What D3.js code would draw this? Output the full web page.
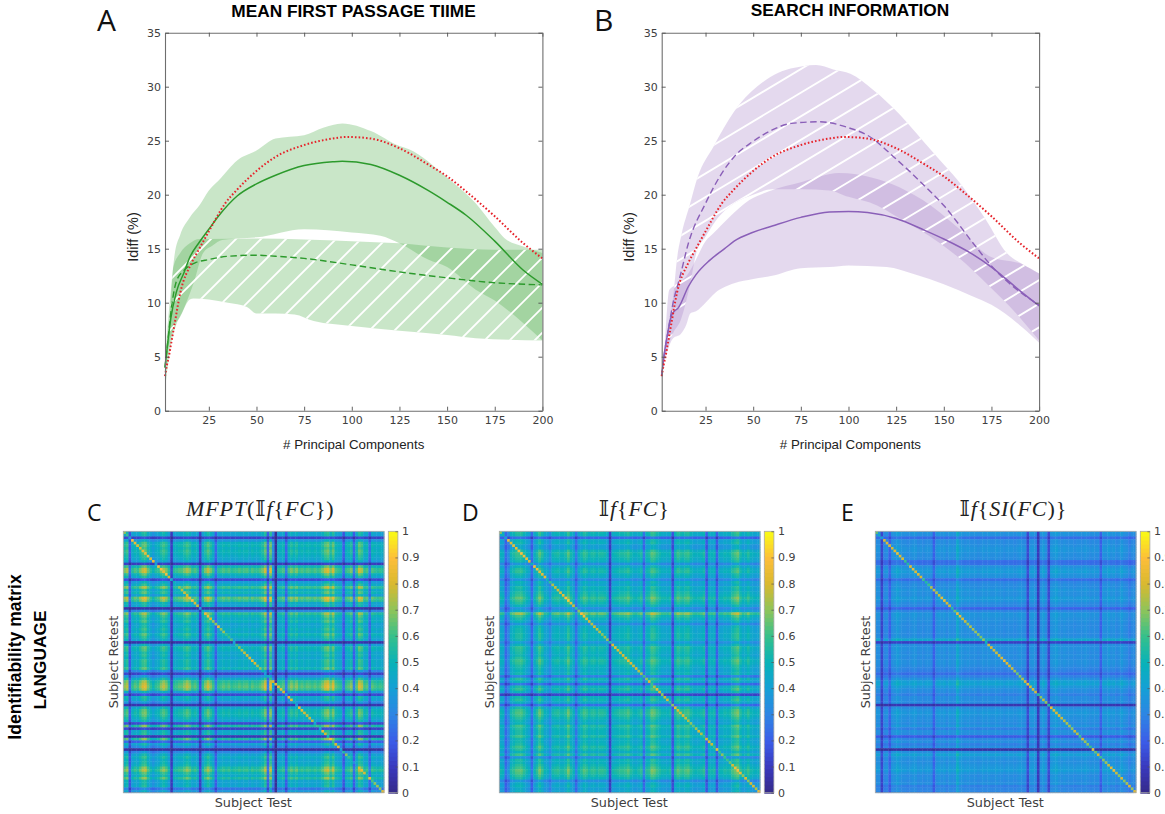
<!DOCTYPE html>
<html><head><meta charset="utf-8">
<script src="https://cdnjs.cloudflare.com/ajax/libs/d3/7.8.5/d3.min.js"></script>
<style>html,body{margin:0;padding:0;background:#fff;overflow:hidden}svg{display:block}</style>
</head><body><svg id="c" width="1165" height="814"></svg>
<script>
// ---------- panel data (x = # principal components, y = Idiff %) ----------
const redX=[2,3,4,5,7,10,16,20,25,33.6,40,50,60,75,90,97,110,125,140,150,160,175,190,200];
const redY=[3.2,4.2,5,6,8,10.9,13.7,15,16.6,19.2,20.5,22.2,23.5,24.6,25.2,25.35,25.2,24.3,22.8,21.7,20.3,18,15.5,14.1];

const aSolidX=[2,3,5,8,12,15,20,25,30,40,50,60,75,90,95,110,125,140,150,160,175,190,200];
const aSolidY=[4,5.6,8.5,11,12.8,14.2,15.6,16.8,18,19.9,21,21.8,22.7,23.05,23.1,22.8,21.8,20.4,19.3,18.1,15.7,13,11.7];
const aDashX=[2,3,5,8,12,18,25,35,50,60,75,100,125,150,175,200];
const aDashY=[4,5.6,9,12,13,13.7,14,14.3,14.4,14.3,14.1,13.5,12.85,12.3,11.85,11.65];
const aBandSolidX=[2,3,5,7,10,15,20,25,30,40,50,60,75,85,95,110,125,130,150,165,175,180,190,200];
const aBandSolidHi=[4.5,7,11,14.4,16.3,17.9,19,20.4,21.3,23.2,24.1,25.2,25.5,26.2,26.6,25.9,24.5,24.2,21.6,19.2,17,16,15.2,14.6];
const aBandSolidLoX=[2,3,5,8,11.5,17,22,27,32,45,50,75,100,115,125,140,150,165,175,190,200];
const aBandSolidLo=[2,3.5,6,8,9.3,11.8,14.6,15.3,15.8,16,16.05,16.8,16.5,16.2,15.5,14,13.3,11.2,10.2,8.1,6.5];
const aBandDashX=[2,3,5,6.4,10,15,20,24,50,75,100,125,150,175,200];
const aBandDashHi=[4,5.5,10,13.3,14.6,15.5,15.9,15.9,15.95,15.85,15.7,15.5,15.1,14.9,14.9];
const aBandDashLoX=[2,3,5,6.4,10,15,17,25,35,45,50,60,70,80,100,125,150,165,200];
const aBandDashLo=[4,5,6.8,7.6,8.7,10.3,10.4,10.3,10,9.6,9,9,8.9,8.3,7.85,7.4,7,6.7,6.5];

const bSolidX=[2,3,5,7.3,11,16,20,27,35,40,49.6,60,75,90,100,110,125,140,150,165,175,190,200];
const bSolidY=[3.2,4.8,7,8.9,9.6,11.5,12.6,13.9,15,15.7,16.5,17.1,17.9,18.4,18.45,18.35,17.8,16.7,15.9,14.5,13.3,11.1,9.7];
const bDashX=[2,3,5,8,11.6,16,25,33.6,41,49.6,60,70,85,100,110,125,140,150,165,175,190,200];
const bDashY=[3.2,4.8,7,10,12.4,15.5,19.2,22,23.7,24.9,26,26.6,26.75,26.2,25.5,23.3,20.8,19,15.6,13.4,11,9.8];
const bBandSolidHiX=[2,3,6,12,17,20,25,29,38,48,58,76,95,104,116,130,139,157,174,192,200];
const bBandSolidHi=[3.5,5,11.2,11.9,13,14,15.7,16.4,18,19.5,20.3,21.2,22,21.9,21.4,20.4,19.5,17,14.3,13.5,12.7];
const bBandSolidLoX=[2,3,5,8,12,15,17,20,25,30,40,50,60,75,90,100,120,135,150,165,175,190,200];
const bBandSolidLo=[3.2,4.2,5.5,6.7,7.1,8,9,9.2,10,10.9,11.8,12.2,12.5,13.2,13.3,13.45,13.3,12.6,11.7,10.6,9.8,7.9,6.3];
const bBandDashHiX=[2,3,5,8,10,12.5,16.5,21,29,40,59,76,83,92,101,113,127,139,148,157,165,172,183,191,200];
const bBandDashHi=[3.5,5,7.5,10.5,14,16.4,18.9,21.7,24.4,27.7,30.9,31.9,32,31.6,31.2,29.7,27.4,25,23.2,21.4,19.5,17.7,14.6,13.6,12.7];
const bBandDashLoX=[2,3,5,8,12,17,20,25,30,40,50,60,75,90,100,115,125,148,157,174,188,200];
const bBandDashLo=[3.5,4.5,5.8,7.2,8.4,11.8,14.5,16.1,17.5,19.2,20,20.5,20.5,20.4,19.8,19,18,15.5,14.3,11.5,9,6.5];

const xTicks=[25,50,75,100,125,150,175,200];
const yTicks=[0,5,10,15,20,25,30,35];
const barTicks=[0,.1,.2,.3,.4,.5,.6,.7,.8,.9,1];

// ---------- identifiability matrices: row level, column level, diagonal ----------
const cRows=[.42,.40,.12,.35,.48,.50,.46,.50,.48,.45,.42,.36,.10,.50,.62,.62,.50,.42,.14,.38,
.45,.60,.45,.50,.40,.66,.60,.42,.40,.05,.30,.58,.50,.45,.48,.40,.42,.46,.42,.50,
.45,.40,.06,.38,.50,.48,.42,.44,.40,.46,.45,.44,.50,.30,.12,.30,.45,.58,.62,.65,
.60,.38,.14,.42,.40,.30,.07,.42,.50,.52,.50,.45,.40,.14,.55,.12,.42,.44,.08,.55,
.20,.40,.30,.04,.30,.40,.45,.40,.42,.45,.55,.60,.50,.45,.55,.40,.40,.42,.25,.35];
const cCols=[.50,.55,.18,.40,.45,.42,.50,.58,.60,.48,.40,.35,.40,.42,.50,.55,.50,.40,.10,.40,
.42,.45,.45,.50,.55,.50,.42,.45,.40,.12,.40,.50,.58,.50,.42,.20,.40,.42,.45,.42,
.45,.40,.42,.42,.45,.42,.44,.45,.40,.45,.42,.42,.45,.50,.60,.20,.62,.30,.03,.40,
.42,.45,.20,.45,.50,.45,.50,.42,.45,.42,.45,.44,.42,.45,.42,.44,.50,.58,.62,.50,
.60,.45,.42,.40,.18,.42,.45,.50,.20,.45,.60,.55,.42,.45,.22,.45,.42,.40,.42,.40];
const cDiag=[.70,.60,.40,.90,.85,.82,.82,.85,.85,.88,.82,.85,.40,.88,.90,.85,.88,.80,.45,.50,
.48,.70,.75,.78,.80,.86,.90,.82,.78,.40,.50,.85,.88,.82,.72,.70,.85,.70,.72,.60,
.60,.62,.40,.60,.70,.75,.78,.80,.82,.85,.82,.72,.70,.50,.38,.45,.60,.80,.82,.85,
.85,.80,.40,.85,.85,.50,.40,.88,.85,.80,.78,.78,.75,.40,.60,.40,.85,.80,.50,.88,
.60,.80,.85,.40,.55,.70,.60,.50,.30,.40,.82,.85,.80,.55,.85,.62,.70,.72,.70,.82];

const dRows=[.46,.44,.20,.40,.42,.36,.36,.46,.50,.48,.45,.42,.30,.40,.46,.48,.42,.40,.30,.40,
.38,.44,.42,.46,.48,.54,.50,.46,.40,.30,.38,.62,.50,.44,.40,.30,.40,.42,.42,.44,
.44,.42,.33,.40,.48,.46,.44,.42,.46,.50,.48,.44,.42,.40,.42,.25,.46,.40,.22,.44,
.48,.40,.12,.42,.46,.40,.22,.44,.50,.52,.50,.46,.42,.40,.50,.46,.44,.44,.50,.42,
.42,.44,.50,.46,.40,.50,.30,.44,.42,.46,.50,.54,.52,.48,.44,.30,.38,.40,.36,.38];
const dCols=[.44,.42,.22,.30,.46,.50,.55,.56,.56,.50,.44,.40,.22,.42,.50,.60,.52,.42,.40,.32,
.46,.48,.50,.46,.46,.50,.60,.48,.42,.25,.42,.48,.55,.52,.46,.50,.50,.46,.50,.50,
.48,.42,.12,.44,.46,.48,.50,.50,.52,.56,.48,.44,.42,.46,.50,.25,.48,.50,.60,.58,
.52,.48,.44,.44,.42,.46,.17,.48,.56,.52,.50,.54,.56,.48,.44,.42,.44,.46,.50,.20,
.44,.44,.46,.20,.42,.42,.46,.44,.46,.54,.58,.62,.50,.44,.46,.52,.44,.42,.40,.42];
const dDiag=[.70,.50,.40,.85,.82,.85,.85,.88,.90,.88,.85,.82,.50,.88,.88,.85,.85,.85,.50,.60,
.75,.78,.80,.82,.85,.90,.92,.85,.78,.60,.70,.90,.88,.82,.80,.75,.80,.78,.75,.70,
.72,.70,.55,.82,.85,.82,.80,.82,.82,.85,.82,.78,.80,.75,.72,.60,.70,.82,.60,.75,
.85,.80,.70,.78,.80,.60,.70,.85,.82,.80,.82,.78,.75,.70,.65,.72,.80,.75,.60,.80,
.82,.78,.60,.85,.60,.70,.60,.60,.65,.80,.88,.90,.85,.70,.82,.70,.80,.82,.75,.85];

const eRows=[.38,.36,.25,.34,.34,.36,.38,.38,.36,.35,.34,.25,.26,.36,.40,.42,.38,.36,.25,.32,
.34,.35,.38,.36,.36,.40,.38,.34,.32,.22,.32,.38,.38,.36,.36,.34,.34,.35,.34,.34,
.36,.48,.12,.34,.36,.36,.34,.36,.34,.36,.36,.34,.32,.30,.25,.30,.36,.44,.46,.40,
.36,.34,.30,.34,.34,.34,.08,.34,.38,.40,.38,.36,.36,.34,.38,.30,.36,.34,.20,.32,
.36,.30,.34,.05,.36,.44,.38,.36,.36,.38,.40,.42,.38,.34,.36,.34,.36,.30,.32,.32];
const eCols=[.36,.36,.14,.32,.34,.22,.36,.38,.42,.38,.36,.36,.34,.36,.38,.38,.34,.36,.34,.36,
.36,.34,.22,.36,.38,.36,.38,.34,.38,.36,.36,.50,.40,.38,.36,.38,.36,.36,.36,.34,
.36,.38,.36,.38,.36,.36,.38,.36,.36,.34,.36,.36,.36,.34,.36,.38,.36,.34,.15,.36,
.38,.34,.10,.36,.40,.34,.15,.38,.40,.42,.38,.36,.38,.36,.36,.36,.34,.36,.36,.36,
.38,.36,.34,.36,.34,.36,.22,.38,.36,.40,.36,.38,.34,.36,.40,.36,.34,.30,.34,.34];
const eDiag=[.65,.45,.40,.80,.82,.80,.80,.82,.85,.82,.80,.60,.55,.82,.85,.82,.82,.80,.60,.55,
.60,.75,.78,.75,.78,.85,.85,.80,.78,.55,.65,.85,.85,.80,.78,.72,.75,.74,.72,.70,
.68,.70,.50,.78,.82,.80,.78,.80,.82,.85,.82,.80,.78,.72,.65,.70,.75,.82,.85,.80,
.82,.78,.55,.70,.78,.70,.55,.85,.82,.80,.80,.78,.76,.74,.72,.70,.78,.75,.60,.80,
.72,.70,.60,.85,.65,.80,.60,.70,.72,.78,.85,.86,.78,.70,.82,.70,.74,.80,.72,.82];

// parula-like ramp
const rampStops=[0,.1,.2,.3,.4,.5,.6,.7,.8,.9,1];
const rampColors=["#352a87","#3a39bd","#3b5de8","#2e85e4","#159fd6","#08b2b8","#35c08c","#8dc45b","#d8b92f","#fdbe3a","#f9fb15"];

// ---------- layout ----------
const svg=d3.select("#c");
const tickFont="'DejaVu Sans',sans-serif", armFont="'Liberation Sans',Arial,sans-serif";
const tickColor="#404040";
const color=d3.scaleLinear().domain(rampStops).range(rampColors).clamp(true);
const zip=(xs,ys)=>xs.map((x,i)=>[x,ys[i]]);

function panel(o){
  const x=d3.scaleLinear().domain([2,200]).range([o.left,o.left+377.4]);
  const y=d3.scaleLinear().domain([0,35]).range([410.7,32.7]);
  const g=svg.append("g");
  const line=d3.line().x(d=>x(d[0])).y(d=>y(d[1])).curve(d3.curveMonotoneX);
  const bandPath=(hi,lo)=>{
    const top=line(hi), bottom=line(lo.slice().reverse());
    return top+"L"+bottom.slice(1)+"Z";
  };
  const dashD=bandPath(o.dashHi,o.dashLo), solidD=bandPath(o.solidHi,o.solidLo);
  g.append("clipPath").attr("id",o.id+"clip").append("path").attr("d",dashD);
  g.append("path").attr("d",solidD).attr("fill",o.fill).attr("fill-opacity",.3);
  g.append("path").attr("d",dashD).attr("fill",o.fill).attr("fill-opacity",.3);
  const h=g.append("g").attr("clip-path",`url(#${o.id}clip)`).attr("stroke","#fff").attr("stroke-width",1.9);
  d3.range(-40,40).forEach(k=>{
    const y0=o.hatch.y+k*o.hatch.gap, x0=o.hatch.x;
    h.append("line").attr("x1",x0-600).attr("y1",y0+600*o.hatch.slope).attr("x2",x0+600).attr("y2",y0-600*o.hatch.slope);
  });
  g.append("path").attr("d",line(o.dash)).attr("fill","none").attr("stroke",o.line).attr("stroke-width",1.4).attr("stroke-dasharray","6.5 3.5");
  g.append("path").attr("d",line(o.solid)).attr("fill","none").attr("stroke",o.line).attr("stroke-width",1.5);
  g.append("path").attr("d",line(zip(redX,redY))).attr("fill","none").attr("stroke","#e6232b").attr("stroke-width",2).attr("stroke-dasharray","1.6 2.1");
  const ax=(gen,tx,ty)=>{const a=g.append("g").attr("transform",`translate(${tx},${ty})`).call(gen);
    a.selectAll("path.domain").attr("stroke","#6e6e6e").attr("stroke-width",1.1);
    a.selectAll("line").attr("stroke","#505050").attr("stroke-width",.9);
    a.selectAll("text").attr("font-family",tickFont).attr("font-size",11).attr("fill",tickColor);return a;};
  const fmt=d3.format("d");
  ax(d3.axisBottom(x).tickValues(xTicks).tickFormat(fmt).tickSizeInner(-4).tickSizeOuter(0).tickPadding(6),0,410.7);
  ax(d3.axisTop(x).tickValues(xTicks).tickFormat("").tickSizeInner(-4).tickSizeOuter(0),0,32.7);
  ax(d3.axisLeft(y).tickValues(yTicks).tickFormat(fmt).tickSizeInner(-4).tickSizeOuter(0).tickPadding(4),o.left,0);
  ax(d3.axisRight(y).tickValues(yTicks).tickFormat("").tickSizeInner(-4).tickSizeOuter(0),o.left+377.4,0);
  const cx=o.left+188.7;
  g.append("text").attr("x",cx).attr("y",448.5).attr("text-anchor","middle").attr("font-family",armFont).attr("font-size",13.3).attr("fill","#222").text("# Principal Components");
  g.append("text").attr("transform",`translate(${o.left-27.5},237) rotate(-90)`).attr("text-anchor","middle").attr("font-family",armFont).attr("font-size",14.5).attr("fill","#222").text("Idiff (%)");
  g.append("text").attr("x",o.titleX).attr("y",o.titleY).attr("text-anchor","middle").attr("font-family",armFont).attr("font-weight","bold").attr("font-size",17.3).attr("fill","#000").text(o.title);
  g.append("text").attr("x",o.letterX).attr("y",31).attr("font-family","'Open Sans',sans-serif").attr("font-size",30).attr("fill","#111").text(o.letter);
}

panel({id:"a",left:165,fill:"rgb(75,172,72)",line:"#2c9a2c",title:"MEAN FIRST PASSAGE TIIME",titleX:353.5,titleY:16.5,letter:"A",letterX:97,
  solid:zip(aSolidX,aSolidY),dash:zip(aDashX,aDashY),
  solidHi:zip(aBandSolidX,aBandSolidHi),solidLo:zip(aBandSolidLoX,aBandSolidLo),
  dashHi:zip(aBandDashX,aBandDashHi),dashLo:zip(aBandDashLoX,aBandDashLo),
  hatch:{x:395,y:330,slope:1,gap:25}});
panel({id:"b",left:661.7,fill:"rgb(165,128,198)",line:"#8a5fb8",title:"SEARCH INFORMATION",titleX:850,titleY:16,letter:"B",letterX:594,
  solid:zip(bSolidX,bSolidY),dash:zip(bDashX,bDashY),
  solidHi:zip(bBandSolidHiX,bBandSolidHi),solidLo:zip(bBandSolidLoX,bBandSolidLo),
  dashHi:zip(bBandDashHiX,bBandDashHi),dashLo:zip(bBandDashLoX,bBandDashLo),
  hatch:{x:698,y:178,slope:.6,gap:23.6}});

function matrix(o){
  const n=o.rows.length, idx=d3.range(n);
  const X=d3.scaleBand().domain(idx).range([o.left,o.left+260.7]);
  const Y=d3.scaleBand().domain(idx).range([531.3,792.7]);
  const m=d3.mean(o.rows);
  const level=v=>v>m?m+(v-m)*.8:v;
  const cells=[];
  idx.forEach(i=>idx.forEach(j=>{
    cells.push({i,j,v:i===j?o.diag[i]:level(o.rows[i])*level(o.cols[j])/m*o.gain});
  }));
  const g=svg.append("g");
  g.append("g").selectAll("rect").data(cells).join("rect")
    .attr("x",d=>X(d.j)).attr("y",d=>Y(d.i)).attr("width",X.bandwidth()+.4).attr("height",Y.bandwidth()+.4)
    .attr("fill",d=>color(d.v));
  g.append("rect").attr("x",o.left).attr("y",531.3).attr("width",260.7).attr("height",261.4).attr("fill","none").attr("stroke","#a8a8a8").attr("stroke-width",.8);
  const bx=o.left+265, bw=9.6;
  const by=d3.scaleLinear().domain([0,1]).range([792.7,531.3]);
  const steps=d3.range(0,64).map(k=>k/64);
  g.append("g").selectAll("rect").data(steps).join("rect").attr("x",bx).attr("width",bw)
    .attr("y",d=>by(d+1/64)).attr("height",(by(0)-by(1))/64+1).attr("fill",d=>color(d+.5/64));
  g.append("rect").attr("x",bx).attr("y",531.3).attr("width",bw).attr("height",261.4).attr("fill","none").attr("stroke","#a8a8a8").attr("stroke-width",.8);
  const a=g.append("g").attr("transform",`translate(${bx+bw},0)`)
    .call(d3.axisRight(by).tickValues(barTicks).tickFormat(d3.format("~g")).tickSizeInner(-2.5).tickSizeOuter(0).tickPadding(4));
  a.select("path.domain").remove();
  a.selectAll("line").attr("stroke","#555").attr("stroke-width",.7);
  a.selectAll("text").attr("font-family",tickFont).attr("font-size",11).attr("fill",tickColor);
  const cx=o.left+130;
  g.append("text").attr("x",cx).attr("y",806.5).attr("text-anchor","middle").attr("font-family",tickFont).attr("font-size",12.8).attr("fill",tickColor).text("Subject Test");
  g.append("text").attr("transform",`translate(${o.left-5.5},662) rotate(-90)`).attr("text-anchor","middle").attr("font-family",tickFont).attr("font-size",12.8).attr("fill",tickColor).text("Subject Retest");
  const t=g.append("text").attr("x",cx+o.titleDx).attr("y",516).attr("text-anchor","middle").attr("font-family","'Liberation Serif',serif").attr("font-size",22).attr("letter-spacing",.9).attr("fill","#222");
  o.title.forEach(s=>t.append("tspan").attr("font-style",s[1]?"italic":"normal").attr("font-family",s[2]||null).text(s[0]));
  g.append("text").attr("x",o.letterX).attr("y",521).attr("font-family","'Open Sans',sans-serif").attr("font-size",23).attr("fill","#111").text(o.letter);
}
const BB="'DejaVu Serif',serif";
matrix({left:123.3,rows:cRows,cols:cCols,diag:cDiag,gain:1,letter:"C",letterX:87,titleDx:7,title:[["MFPT",1],["(",0],["𝕀",0,BB],["f",1],["{",0],["FC",1],["}",0],[")",0]]});
matrix({left:499.3,rows:dRows,cols:dCols,diag:dDiag,gain:1,letter:"D",letterX:462,titleDx:5,title:[["𝕀",0,BB],["f",1],["{",0],["FC",1],["}",0]]});
matrix({left:875.3,rows:eRows,cols:eCols,diag:eDiag,gain:.92,letter:"E",letterX:841,titleDx:8,title:[["𝕀",0,BB],["f",1],["{",0],["SI",1],["(",0],["FC",1],[")",0],["}",0]]});

svg.append("text").attr("transform","translate(21,657) rotate(-90)").attr("text-anchor","middle").attr("font-family",armFont).attr("font-weight","bold").attr("font-size",17.5).attr("fill","#000").text("Identifiability matrix");
svg.append("text").attr("transform","translate(46,660) rotate(-90)").attr("text-anchor","middle").attr("font-family",armFont).attr("font-weight","bold").attr("font-size",17.3).attr("fill","#000").text("LANGUAGE");
</script></body></html>
